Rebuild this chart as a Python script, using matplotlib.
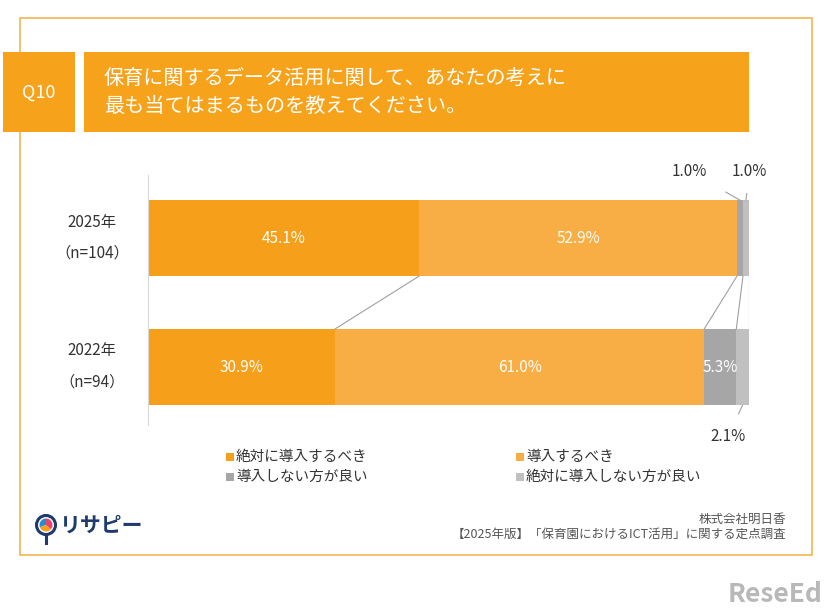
import numpy as np
import matplotlib.pyplot as plt
from matplotlib.patches import Rectangle, Circle, Wedge

plt.rcParams['font.family'] = ['Noto Sans CJK JP', 'DejaVu Sans']

years = ['2025年', '2022年']
ns = ['（n=104）', '（n=94）']
categories = ['絶対に導入するべき', '導入するべき', '導入しない方が良い', '絶対に導入しない方が良い']
values = np.array([[45.1, 52.9, 1.0, 1.0],
                   [30.9, 61.0, 5.3, 2.1]])
colors = ['#F59F1A', '#F8AE44', '#A6A6A6', '#C0C0C0']

W, H = 826, 612
fig = plt.figure(figsize=(W / 100, H / 100), dpi=100)


def fx(x):
    return x / W


def fy(y):
    return 1 - y / H


# frame
fig.patches.append(Rectangle((fx(20), fy(555)), fx(792), 537 / H, transform=fig.transFigure,
                             fill=False, edgecolor='#F2B651', lw=1.2))
# header boxes
fig.patches.append(Rectangle((fx(3), fy(132)), fx(72), 80 / H, transform=fig.transFigure,
                             facecolor='#F7A21B', edgecolor='none'))
fig.patches.append(Rectangle((fx(84), fy(132)), fx(665), 80 / H, transform=fig.transFigure,
                             facecolor='#F7A21B', edgecolor='none'))
fig.text(fx(39), fy(93), 'Q10', color='white', fontsize=13, ha='center', va='center')
fig.text(fx(104), fy(78), '保育に関するデータ活用に関して、あなたの考えに', color='white',
         fontsize=14.5, ha='left', va='center')
fig.text(fx(104), fy(106), '最も当てはまるものを教えてください。', color='white',
         fontsize=14.5, ha='left', va='center')

# bars are drawn as share of the row total (rounded values don't add up to 100)
shares = values / values.sum(axis=1, keepdims=True) * 100

ax = fig.add_axes([fx(148), fy(425), (749 - 148) / W, 250 / H])
ax.set_xlim(0, 100)
ax.set_ylim(1.45, -0.49)
bh = 0.59
ypos = np.arange(len(years))
left = np.zeros(len(years))
for j, cat in enumerate(categories):
    ax.barh(ypos, shares[:, j], left=left, height=bh, color=colors[j], label=cat)
    left += shares[:, j]

# inside labels
cum = np.cumsum(shares, axis=1)
starts = cum - shares
for i in range(len(years)):
    for j in range(len(categories)):
        v = values[i, j]
        if v >= 5:
            ax.text(starts[i, j] + shares[i, j] / 2, ypos[i], f'{v:.1f}%', color='white',
                    fontsize=11, ha='center', va='center')

# connector lines between bars
for j in range(len(categories)):
    ax.plot([cum[0, j], cum[1, j]], [ypos[0] + bh / 2, ypos[1] - bh / 2],
            color='#A0A0A0', lw=0.8)

# small value labels with leader lines
ax.annotate(f'{values[0, 2]:.1f}%', xy=(starts[0, 2] + shares[0, 2] / 2, ypos[0] - bh / 2),
            xytext=(90.0, -0.52), textcoords='data', fontsize=11, color='#333333',
            ha='center', va='center',
            arrowprops=dict(arrowstyle='-', color='#A0A0A0', lw=0.8, shrinkA=14, shrinkB=0))
ax.annotate(f'{values[0, 3]:.1f}%', xy=(starts[0, 3] + shares[0, 3] / 2, ypos[0] - bh / 2),
            xytext=(100.0, -0.52), textcoords='data', fontsize=11, color='#333333',
            ha='center', va='center', annotation_clip=False,
            arrowprops=dict(arrowstyle='-', color='#A0A0A0', lw=0.8, shrinkA=8, shrinkB=0))
ax.annotate(f'{values[1, 3]:.1f}%', xy=(starts[1, 3] + shares[1, 3] / 2, ypos[1] + bh / 2),
            xytext=(96.5, 1.54), textcoords='data', fontsize=11, color='#333333',
            ha='center', va='center', annotation_clip=False,
            arrowprops=dict(arrowstyle='-', color='#A0A0A0', lw=0.8, shrinkA=9, shrinkB=0))

ax.set_yticks([])
ax.set_xticks([])
for s in ['top', 'right', 'bottom']:
    ax.spines[s].set_visible(False)
ax.spines['left'].set_color('#D9D9D9')
ax.patch.set_alpha(0)

# category labels
for i, (yr, n) in enumerate(zip(years, ns)):
    yc = 238.5 + i * 128.5
    fig.text(fx(92), fy(yc - 16), yr, fontsize=11, color='#333333', ha='center', va='center')
    fig.text(fx(92), fy(yc + 15), n, fontsize=11, color='#333333', ha='center', va='center')

# legend
leg_pos = [(226, 457), (516, 457), (226, 477), (516, 477)]
for (lx, ly), cat, c in zip(leg_pos, categories, colors):
    fig.patches.append(Rectangle((fx(lx), fy(ly + 4)), 8 / W, 8 / H, transform=fig.transFigure,
                                 facecolor=c, edgecolor='none'))
    fig.text(fx(lx + 10), fy(ly), cat, fontsize=10.5, color='#333333', ha='left', va='center')

# footer
fig.text(fx(786), fy(519), '株式会社明日香', fontsize=9, color='#555555', ha='right', va='center')
fig.text(fx(786), fy(534), '【2025年版】「保育園におけるICT活用」に関する定点調査', fontsize=9,
         color='#555555', ha='right', va='center')

# logo
lax = fig.add_axes([fx(34), fy(545), 24 / W, 32 / H])
lax.set_xlim(0, 24)
lax.set_ylim(0, 32)
lax.set_aspect('equal')
lax.axis('off')
lax.add_patch(Circle((12, 20), 9.5, facecolor='white', edgecolor='#1E3A6E', lw=2.2))
lax.add_patch(Wedge((12, 20), 6.5, 90, 200, facecolor='#2A8CD0'))
lax.add_patch(Wedge((12, 20), 6.5, 200, 320, facecolor='#F7A21B'))
lax.add_patch(Wedge((12, 20), 6.5, 320, 450, facecolor='#E8456A'))
lax.plot([12, 12], [10.5, 1], color='#1E3A6E', lw=2.2)
fig.text(fx(60), fy(525), 'リサピー', fontsize=15, color='#1E3A6E', fontweight='bold',
         ha='left', va='center')

# watermark
fig.text(fx(822), fy(594), 'ReseEd', fontsize=19, color='#B8B8B8', fontweight='bold',
         ha='right', va='center')

fig.savefig('out.png', dpi=100)
